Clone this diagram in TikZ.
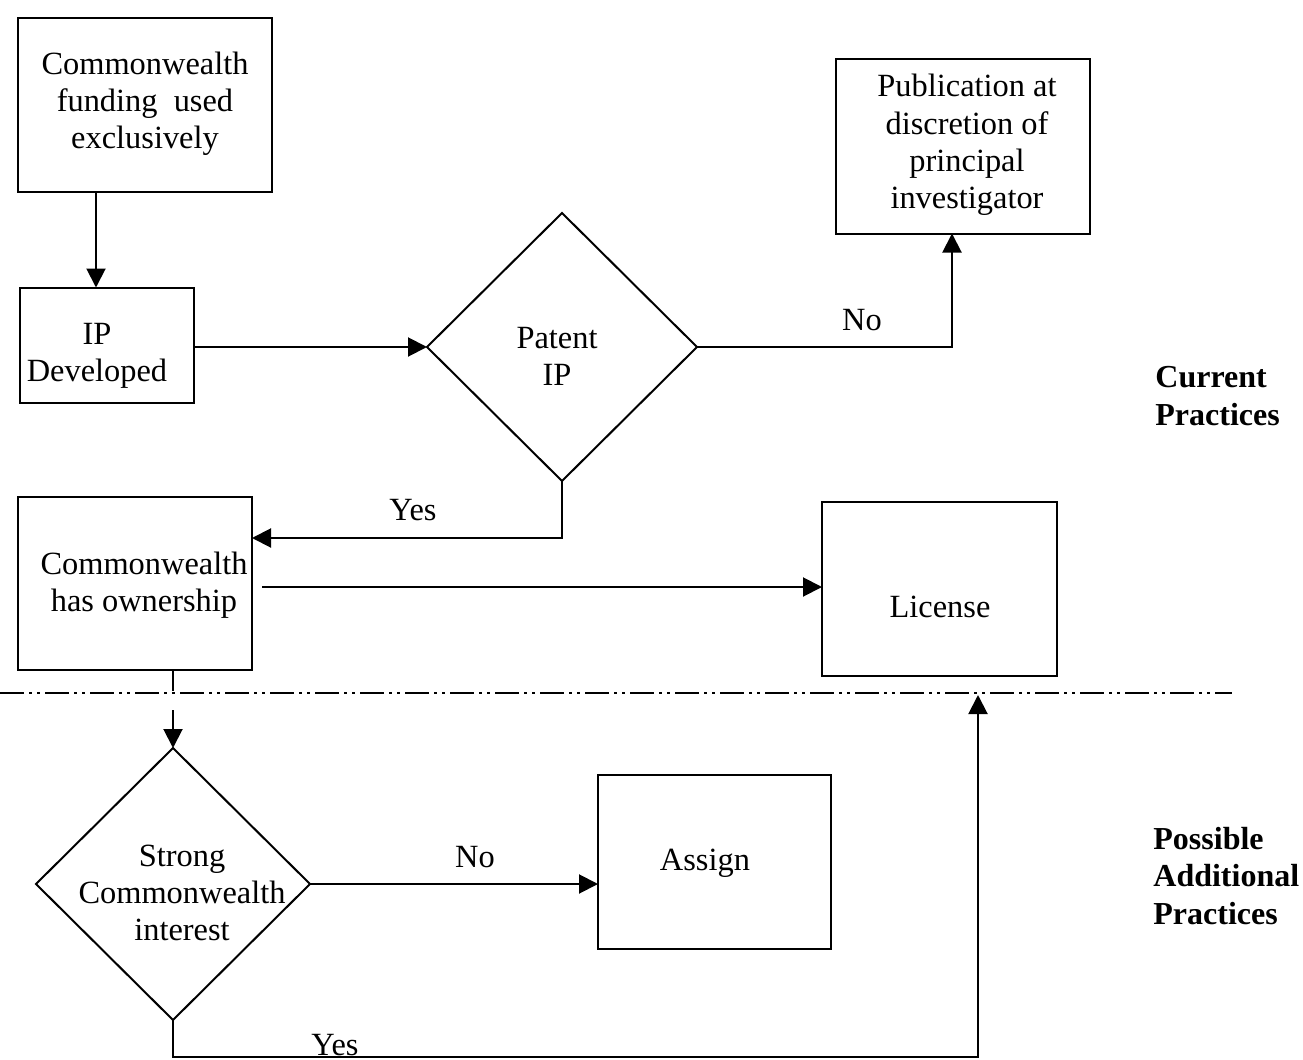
\documentclass[tikz,border=0pt]{standalone}
\usepackage{fontspec}
\setmainfont{Liberation Serif}
\usetikzlibrary{shapes.geometric,arrows.meta,calc}
\begin{document}
\begin{tikzpicture}[x=0.5pt,y=-0.5pt,
  bx/.style={draw,line width=1pt,inner sep=0,outer sep=0},
  dm/.style={draw,diamond,line width=1pt,inner sep=0,outer sep=0},
  txt/.style={font=\fontsize{16.2}{18.6}\selectfont,align=center,inner sep=0},
  side/.style={font=\fontsize{16}{18.8}\selectfont\bfseries,align=left,inner sep=0,anchor=west},
  arr/.style={line width=1pt,-{Triangle[length=9.5pt,width=9.5pt]}},
  ln/.style={line width=1pt},
  sep/.style={line width=1pt,dash pattern=on 12pt off 2.5pt on 1.5pt off 2.5pt on 1.5pt off 2.5pt}]
\fill[white] (0,0) rectangle (1303,1060);
\useasboundingbox (0,0) rectangle (1303,1060);

% boxes
\node[bx,minimum width=127pt,minimum height=87pt] (b1) at (145,105) {};
\node[txt] (b1t) at (145,104) {Commonwealth\\funding\ \ used\\exclusively};

\node[bx,minimum width=87pt,minimum height=57.5pt] (b2) at (107,345) {};
\node[txt] (b2t) at (97,356) {IP\\Developed};

\node[dm,minimum width=135pt,minimum height=134pt] (d1) at (562,347) {};
\node[txt] (d1t) at (557,356) {Patent\\IP};

\node[bx,minimum width=127pt,minimum height=87.5pt] (pub) at (963,146) {};
\node[txt] (pubt) at (967,145) {Publication at\\discretion of\\principal\\investigator};

\node[bx,minimum width=117pt,minimum height=86.5pt] (b3) at (135,583.5) {};
\node[txt] (b3t) at (144,585) {Commonwealth\\has ownership};

\node[bx,minimum width=117.5pt,minimum height=87pt] (lic) at (939.5,589) {};
\node[txt] (lict) at (940,607) {License};

\node[dm,minimum width=137pt,minimum height=136pt] (d2) at (173,884) {};
\node[txt] (d2t) at (182,893) {Strong\\Commonwealth\\interest};

\node[bx,minimum width=116.5pt,minimum height=87pt] (as) at (714.5,862) {};
\node[txt] (ast) at (705,863) {Assign};

% side labels
\node[side] (cur) at (1155,396) {Current\\Practices};
\node[side] (pos) at (1153,876) {Possible\\Additional\\Practices};

% helper coordinates
\coordinate (x96) at (96,0);
\coordinate (x952) at (952,0);
\coordinate (y538) at (0,538);
\coordinate (y587) at (0,587);
\coordinate (y691) at (0,691);
\coordinate (y1057) at (0,1057);
\coordinate (tip) at (978,695);

% connectors
\draw[arr] (b1.south -| x96) -- (b2.north -| x96);
\draw[arr] (b2.east |- d1.west) -- (d1.west);
\draw[arr] (d1.east) -- (d1.east -| x952) -- (pub.south -| x952);
\node[txt] (no1) at (862,320) {No};
\draw[arr] (d1.south) |- (b3.east |- y538);
\node[txt] (yes1) at (413,510) {Yes};
\draw[arr,shorten <=5pt] (b3.east |- y587) -- (lic.west |- y587);
\draw[ln] (b3.south -| d2.north) -- (d2.north |- y691);
\draw[arr] ($(d2.north)+(0,-38)$) -- (d2.north);
\draw[arr] (d2.east) -- (as.west |- d2.east);
\node[txt] (no2) at (475,857) {No};
\draw[arr] (d2.south) -- (d2.south |- y1057) -| (tip);
\node[txt,anchor=base] (yes2) at (335,1055) {Yes};

% separator
\draw[sep] (0,693) -- (1232,693);
\end{tikzpicture}
\end{document}
